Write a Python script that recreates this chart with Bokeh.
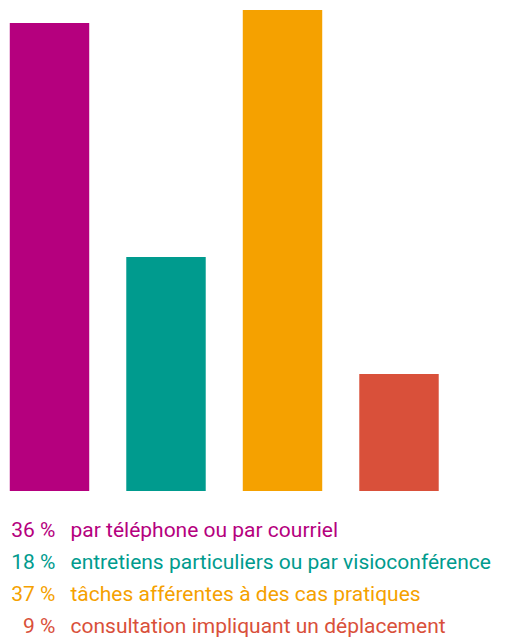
from bokeh.plotting import figure
from bokeh.models import Range1d, Label, ColumnDataSource
from bokeh.embed import file_html
from bokeh.resources import INLINE

categories = ["par téléphone ou par courriel",
              "entretiens particuliers ou par visioconférence",
              "tâches afférentes à des cas pratiques",
              "consultation impliquant un déplacement"]
values = [36, 18, 37, 9]
colors = ["#B5007E", "#009B8E", "#F5A100", "#D9503A"]

W, H = 505, 637
px_per_unit = 13.0
bottom_px = 146.5
spacing = 116.5
first_center = 49.0

y0 = -bottom_px / px_per_unit
x0 = -first_center / spacing
p = figure(width=W, height=H, output_backend="svg", toolbar_location=None,
           x_range=Range1d(x0, x0 + W / spacing),
           y_range=Range1d(y0, y0 + H / px_per_unit),
           x_axis_location=None, y_axis_location=None, min_border=0)
p.outline_line_color = None
p.grid.visible = False
p.background_fill_color = "white"
p.border_fill_color = "white"

src = ColumnDataSource(dict(x=list(range(len(values))), top=values, color=colors))
p.vbar(x="x", top="top", bottom=0, width=0.682, color="color", source=src, line_color=None)

font = "Roboto"
fs = "21px"
for i, (cat, v, c) in enumerate(zip(categories, values, colors)):
    yb = 108 - 32 * i
    p.add_layout(Label(x=55, y=yb, x_units="screen", y_units="screen", text=f"{v} %",
                       text_align="right", text_baseline="alphabetic", text_color=c,
                       text_font=font, text_font_size=fs))
    p.add_layout(Label(x=70, y=yb, x_units="screen", y_units="screen", text=cat,
                       text_align="left", text_baseline="alphabetic", text_color=c,
                       text_font=font, text_font_size=fs))

open("out.html", "w").write(file_html(p, INLINE))
